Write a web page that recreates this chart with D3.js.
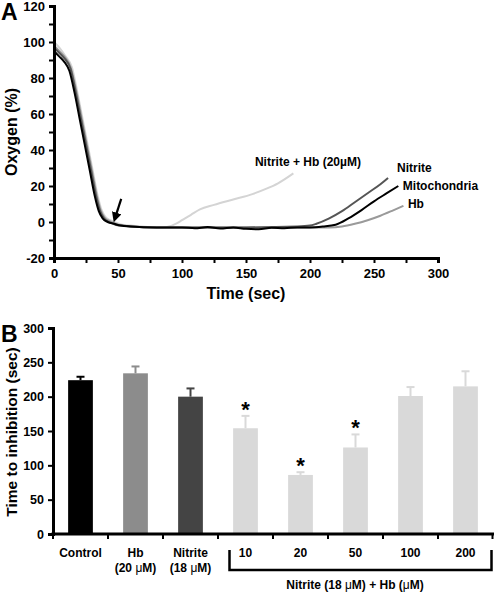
<!DOCTYPE html>
<html><head><meta charset="utf-8">
<script src="https://cdn.jsdelivr.net/npm/d3@7"></script>
<style>
body{margin:0;background:#fff;}
svg{font-family:"Liberation Sans",Arial,sans-serif;font-weight:bold;}
</style></head>
<body><svg id="c" width="496" height="592"></svg>
<script>
// ---------- Panel A data ----------
const mitoT = [0,4,8,12,16,20,24,28,32,35,38,42,47,52,60,80,100,110,120,130,140,150,160,170,180,190,200,210,220,230,240,250,260,269];
const mitoV = [95,92,89,84,72,57.5,43,28.5,14,6,2,0,-1,-2,-2.5,-3,-3,-3.5,-2.8,-3.6,-3,-3.8,-4,-3.2,-3.5,-3,-3,-2.5,-1.5,2,6.5,11.5,16,20];
const nitT = [0,4,8,13,17,21,25,29,33,36,39,43,48,53,60,80,100,150,190,200,205,215,225,235,245,255,261];
const nitV = [97,94,91,85,72,57.5,43,28.5,14,6,2,0,-1.5,-2,-2.5,-3,-3,-3,-2.5,-2,-1,2,6,11,16,21,24.5];
const hbT = [0,4,8,13,17.5,21.5,25.5,29.5,33.5,36.5,39.5,43.5,48,53,60,80,100,150,200,215,225,235,245,255,265,273];
const hbV = [98,95,92,86,72.5,58,43.5,29,14.5,6.5,2.5,0.5,-1,-2,-2.5,-3,-3,-3,-3,-3,-2.5,-1,1,3.5,6.5,9];
const nhT = [0,4,9,14,18,22,26,30,34,37,40,44,49,53,60,80,85,90,95,100,107,114,125,140,155,166,175,187];
const nhV = [100,97,92,86,73,58.5,44,29.5,15,7,3,1,-0.5,-1.5,-2,-3,-3,-2.5,-1,1,4,7,9.5,12.5,15.5,18.5,21.5,27];
const seriesNames = ["Nitrite + Hb (20\u00b5M)","Hb","Nitrite","Mitochondria"];
const seriesColors = ["#d4d4d4","#9a9a9a","#555555","#000000"];
const labelT = [157,276.5,268,272.5];   // label left edge (time)
const labelV = [31,7.8,27.8,17.8];      // label baseline (oxygen)
const xTicksA = [0,50,100,150,200,250,300];
const yTicksA = [-20,0,20,40,60,80,100,120];

// ---------- Panel B data ----------
const cats = ["Control","Hb","Nitrite","10","20","50","100","200"];
const catSub = ["","(20 \u03bcM)","(18 \u03bcM)","","","","",""];
const means = [224,234,200,154,86,126,201,215];
const errs = [5,10,12,18,4,19,13,22];
const sig = [false,false,false,true,true,true,false,false];
const barColors = ["#000000","#8c8c8c","#444444","#d9d9d9","#d9d9d9","#d9d9d9","#d9d9d9","#d9d9d9"];
const yTicksB = [0,50,100,150,200,250,300];

const svg = d3.select("#c");

// ===== Panel A =====
const xA = d3.scaleLinear().domain([0,300]).range([54,438]);
const yA = d3.scaleLinear().domain([-20,120]).range([258,6]);

const gA = svg.append("g");
const series = [[nhT,nhV],[hbT,hbV],[nitT,nitV],[mitoT,mitoV]];
const line = d3.line().x(d=>xA(d[0])).y(d=>yA(d[1])).curve(d3.curveMonotoneX);
series.forEach((s,i)=>{
  const pts = s[0].map((t,j)=>[t,s[1][j]]);
  gA.append("path").attr("d",line(pts)).attr("fill","none")
    .attr("stroke",seriesColors[i]).attr("stroke-width",2);
});

// axes A
const xAxA = d3.axisBottom(xA).tickValues(d3.range(0,301,25)).tickSize(5)
  .tickFormat(d=> xTicksA.includes(d)? d : "");
const gxA = gA.append("g").attr("transform","translate(0,258)").call(xAxA);
const yAxA = d3.axisLeft(yA).tickValues(d3.range(-20,121,10)).tickSize(5)
  .tickFormat(d=> yTicksA.includes(d)? d : "");
const gyA = gA.append("g").attr("transform","translate(54,0)").call(yAxA);
[gxA,gyA].forEach(g=>{
  g.select(".domain").attr("stroke","#000").attr("stroke-width",3);
  g.selectAll(".tick line").attr("stroke","#000").attr("stroke-width",2);
  g.selectAll(".tick text").attr("font-size",13).attr("font-weight","bold")
    .attr("font-family","Liberation Sans, Arial, sans-serif").attr("fill","#000");
});
gxA.selectAll(".tick text").attr("dy","0.9em");
gyA.selectAll(".tick text").attr("dx","-1");

gA.append("text").attr("x",246).attr("y",299).attr("text-anchor","middle")
  .attr("font-size",16).text("Time (sec)");
gA.append("text").attr("transform","translate(17,132) rotate(-90)").attr("text-anchor","middle")
  .attr("font-size",16).text("Oxygen (%)");
svg.append("text").attr("x",1).attr("y",20).attr("font-size",23).text("A");

// series labels
seriesNames.forEach((n,i)=>{
  gA.append("text").attr("x",xA(labelT[i]))
    .attr("y",yA(labelV[i])).attr("font-size",12).text(n);
});

// arrow
const defs = svg.append("defs");
defs.append("marker").attr("id","ah").attr("viewBox","0 0 10 10").attr("refX",3).attr("refY",5)
  .attr("markerWidth",4.5).attr("markerHeight",4.5).attr("orient","auto")
  .append("path").attr("d","M0,0L10,5L0,10z").attr("fill","#000");
gA.append("line").attr("x1",xA(52.5)).attr("y1",yA(12.8)).attr("x2",xA(48.3)).attr("y2",yA(3.5))
  .attr("stroke","#000").attr("stroke-width",2.2).attr("marker-end","url(#ah)");

// ===== Panel B =====
const xB = d3.scaleBand().domain(cats).range([53,493]).paddingInner(0.55).paddingOuter(0.275);
const yB = d3.scaleLinear().domain([0,300]).range([534,328]);
const gB = svg.append("g");

cats.forEach((c,i)=>{
  const x0 = xB(c), w = xB.bandwidth(), cx = x0+w/2;
  gB.append("line").attr("x1",cx).attr("x2",cx).attr("y1",yB(means[i])).attr("y2",yB(means[i]+errs[i]))
    .attr("stroke",barColors[i]).attr("stroke-width",2);
  gB.append("line").attr("x1",cx-4).attr("x2",cx+4).attr("y1",yB(means[i]+errs[i])).attr("y2",yB(means[i]+errs[i]))
    .attr("stroke",barColors[i]).attr("stroke-width",2);
  gB.append("rect").attr("x",x0).attr("width",w).attr("y",yB(means[i]))
    .attr("height",yB(0)-yB(means[i])).attr("fill",barColors[i]);
  if(sig[i]){
    gB.append("text").attr("x",cx).attr("y",yB(means[i]+errs[i])+1).attr("text-anchor","middle")
      .attr("font-size",22).attr("font-weight","bold")
      .text("*");
  }
});

const yAxB = d3.axisLeft(yB).tickValues(yTicksB).tickSize(5);
const gyB = gB.append("g").attr("transform","translate(53,0)").call(yAxB);
gyB.select(".domain").attr("stroke","#000").attr("stroke-width",3);
gyB.selectAll(".tick line").attr("stroke","#000").attr("stroke-width",2);
gyB.selectAll(".tick text").attr("font-size",12.5).attr("font-weight","bold")
  .attr("font-family","Liberation Sans, Arial, sans-serif").attr("fill","#000").attr("dx","-1");

// x axis B
gB.append("line").attr("x1",51.5).attr("x2",494).attr("y1",534).attr("y2",534)
  .attr("stroke","#000").attr("stroke-width",3);
const step = xB.step();
cats.forEach((c,i)=>{
  const bx = 53 + i*step;
  gB.append("line").attr("x1",bx).attr("x2",bx).attr("y1",534).attr("y2",539).attr("stroke","#000").attr("stroke-width",2);
});
gB.append("line").attr("x1",492.5).attr("x2",492.5).attr("y1",534).attr("y2",539).attr("stroke","#000").attr("stroke-width",2);

cats.forEach((c,i)=>{
  const cx = xB(c)+xB.bandwidth()/2;
  gB.append("text").attr("x",cx).attr("y",557).attr("text-anchor","middle").attr("font-size",12).text(c);
  if(catSub[i]){
    const t = gB.append("text").attr("x",cx).attr("y",572).attr("text-anchor","middle").attr("font-size",12);
    const parts = catSub[i].split("\u03bc");
    t.append("tspan").text(parts[0]);
    t.append("tspan").attr("font-weight","normal").text("\u03bc");
    t.append("tspan").text(parts[1]);
  }
});

// bracket
gB.append("path").attr("d","M229.5,550V570H491.5V550").attr("fill","none").attr("stroke","#000").attr("stroke-width",2.5);
const bl = gB.append("text").attr("x",355).attr("y",589).attr("text-anchor","middle").attr("font-size",12);
bl.append("tspan").text("Nitrite (18 ");
bl.append("tspan").attr("font-weight","normal").text("\u03bc");
bl.append("tspan").text("M) + Hb (");
bl.append("tspan").attr("font-weight","normal").text("\u03bc");
bl.append("tspan").text("M)");

gB.append("text").attr("transform","translate(17,432) rotate(-90)").attr("text-anchor","middle")
  .attr("font-size",15.5).text("Time to inhibition (sec)");
svg.append("text").attr("x",1).attr("y",342).attr("font-size",23).text("B");
</script></body></html>
